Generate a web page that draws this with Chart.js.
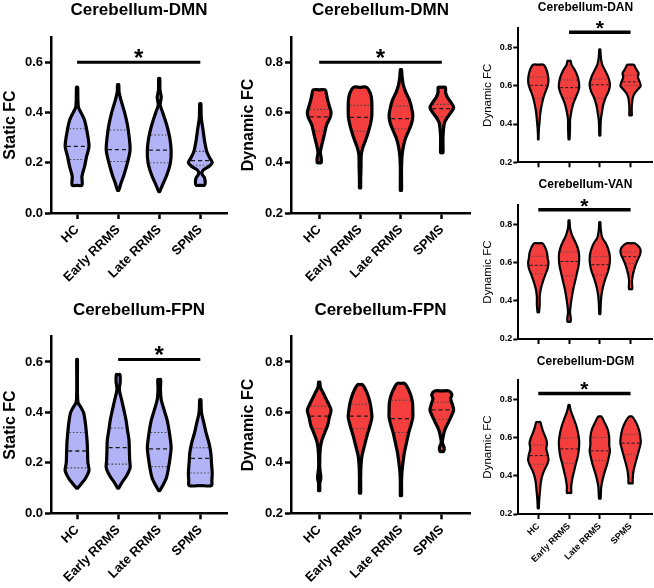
<!DOCTYPE html>
<html><head><meta charset="utf-8">
<script src="https://cdn.jsdelivr.net/npm/chart.js@4"></script>
<style>
html,body{margin:0;padding:0;background:#fff;width:654px;height:588px;overflow:hidden;position:relative}
canvas{position:absolute}
</style></head><body>
<script>
// ---------------- DATA ----------------
const groups = ['HC', 'Early RRMS', 'Late RRMS', 'SPMS'];
const staticTicks = [0.0, 0.2, 0.4, 0.6];
const dynamicTicks = [0.2, 0.4, 0.6, 0.8];

// violin profiles: [value, relative half-width]
const dmnStaticViolins = [
  [[0.11,0.41],[0.146,0.41],[0.185,0.63],[0.225,0.80],[0.265,1.0],[0.32,0.85],[0.37,0.62],[0.40,0.32],[0.42,0.12],[0.45,0.07],[0.50,0.05]],
  [[0.09,0.05],[0.12,0.25],[0.15,0.48],[0.20,0.78],[0.25,1.0],[0.30,0.93],[0.35,0.78],[0.40,0.54],[0.45,0.23],[0.48,0.08],[0.51,0.05]],
  [[0.085,0.04],[0.11,0.26],[0.15,0.63],[0.20,0.94],[0.25,1.0],[0.30,0.88],[0.35,0.63],[0.40,0.29],[0.43,0.08],[0.46,0.17],[0.49,0.06],[0.535,0.05]],
  [[0.11,0.35],[0.12,0.41],[0.14,0.35],[0.155,0.14],[0.17,0.23],[0.185,0.72],[0.20,1.0],[0.22,0.78],[0.245,0.54],[0.28,0.38],[0.33,0.23],[0.38,0.08],[0.435,0.05]]
];
const dmnStaticMedian = [0.265, 0.252, 0.25, 0.208];
const dmnStaticQ1 = [0.213, 0.205, 0.2, 0.19];
const dmnStaticQ3 = [0.335, 0.33, 0.31, 0.245];
const dmnStaticSig = [0, 3, 0.6];

const dmnDynViolins = [
  [[0.40,0.17],[0.42,0.17],[0.44,0.1],[0.46,0.17],[0.49,0.32],[0.52,0.47],[0.55,0.62],[0.58,0.92],[0.60,1.0],[0.63,0.83],[0.65,0.71],[0.67,0.62],[0.69,0.5]],
  [[0.30,0.05],[0.33,0.05],[0.38,0.08],[0.43,0.1],[0.46,0.23],[0.49,0.47],[0.52,0.68],[0.55,0.86],[0.58,0.98],[0.62,1.0],[0.65,0.98],[0.677,0.86],[0.70,0.55]],
  [[0.29,0.05],[0.33,0.05],[0.38,0.05],[0.43,0.1],[0.47,0.23],[0.50,0.41],[0.53,0.68],[0.56,0.92],[0.59,1.0],[0.62,0.89],[0.65,0.71],[0.68,0.41],[0.71,0.2],[0.74,0.1],[0.77,0.05]],
  [[0.44,0.1],[0.47,0.1],[0.50,0.1],[0.53,0.14],[0.56,0.23],[0.58,0.47],[0.60,0.77],[0.62,1.0],[0.64,0.77],[0.66,0.47],[0.68,0.32],[0.70,0.3]]
];
const dmnDynMedian = [0.582, 0.58, 0.575, 0.615];
const dmnDynQ1 = [0.525, 0.525, 0.535, 0.582];
const dmnDynQ3 = [0.612, 0.628, 0.625, 0.632];
const dmnDynSig = [0, 3, 0.8];

const danViolins = [
  [[0.32,0.03],[0.34,0.03],[0.38,0.07],[0.42,0.14],[0.46,0.21],[0.50,0.34],[0.54,0.52],[0.57,0.72],[0.60,0.93],[0.63,1.0],[0.66,0.93],[0.69,0.76],[0.71,0.52]],
  [[0.32,0.05],[0.34,0.07],[0.38,0.1],[0.42,0.1],[0.46,0.21],[0.50,0.38],[0.53,0.59],[0.56,0.83],[0.59,1.0],[0.62,0.97],[0.65,0.83],[0.68,0.59],[0.71,0.24],[0.73,0.15]],
  [[0.34,0.05],[0.38,0.07],[0.42,0.1],[0.46,0.21],[0.50,0.34],[0.54,0.59],[0.57,0.86],[0.60,1.0],[0.62,0.97],[0.65,0.79],[0.68,0.52],[0.71,0.24],[0.75,0.1],[0.79,0.05]],
  [[0.445,0.12],[0.46,0.12],[0.49,0.12],[0.52,0.17],[0.54,0.24],[0.56,0.4],[0.58,0.7],[0.60,1.0],[0.625,0.86],[0.645,0.72],[0.665,0.79],[0.69,0.52],[0.71,0.31]]
];
const danMedian = [0.602, 0.59, 0.605, 0.62];
const danQ1 = [0.535, 0.535, 0.535, 0.6];
const danQ3 = [0.645, 0.63, 0.635, 0.655];
const danSig = [1, 3, 0.88];

const vanViolins = [
  [[0.34,0.07],[0.38,0.14],[0.42,0.14],[0.46,0.24],[0.50,0.45],[0.54,0.72],[0.57,0.93],[0.60,1.0],[0.62,0.93],[0.65,0.86],[0.68,0.66],[0.70,0.4]],
  [[0.29,0.15],[0.31,0.17],[0.34,0.1],[0.38,0.17],[0.42,0.28],[0.46,0.41],[0.50,0.59],[0.54,0.76],[0.58,0.93],[0.62,1.0],[0.65,0.97],[0.68,0.83],[0.71,0.59],[0.74,0.31],[0.78,0.1],[0.82,0.05]],
  [[0.33,0.05],[0.35,0.07],[0.39,0.1],[0.43,0.17],[0.47,0.31],[0.51,0.52],[0.55,0.79],[0.58,0.93],[0.61,1.0],[0.64,0.97],[0.67,0.83],[0.70,0.59],[0.73,0.24],[0.77,0.1],[0.81,0.05]],
  [[0.46,0.15],[0.47,0.17],[0.50,0.14],[0.53,0.21],[0.56,0.34],[0.59,0.52],[0.62,0.76],[0.64,0.93],[0.66,1.0],[0.68,0.86],[0.70,0.4]]
];
const vanMedian = [0.585, 0.605, 0.588, 0.63];
const vanQ1 = [0.54, 0.53, 0.535, 0.595];
const vanQ3 = [0.632, 0.655, 0.63, 0.655];
const vanSig = [0, 3, 0.875];

const dgmViolins = [
  [[0.23,0.05],[0.25,0.07],[0.28,0.1],[0.32,0.17],[0.36,0.24],[0.39,0.34],[0.42,0.52],[0.45,0.79],[0.48,1.0],[0.51,0.93],[0.54,0.79],[0.57,0.86],[0.60,0.72],[0.63,0.48],[0.66,0.31],[0.68,0.2]],
  [[0.31,0.21],[0.34,0.21],[0.38,0.31],[0.42,0.48],[0.46,0.66],[0.50,0.86],[0.54,0.97],[0.58,1.0],[0.62,0.9],[0.66,0.72],[0.70,0.45],[0.74,0.17],[0.77,0.05]],
  [[0.28,0.07],[0.30,0.1],[0.34,0.14],[0.38,0.28],[0.42,0.48],[0.46,0.72],[0.50,0.9],[0.53,1.0],[0.56,0.93],[0.60,0.93],[0.64,0.79],[0.68,0.45],[0.71,0.15]],
  [[0.36,0.2],[0.38,0.21],[0.42,0.28],[0.46,0.45],[0.50,0.66],[0.54,0.86],[0.57,1.0],[0.60,0.97],[0.64,0.83],[0.68,0.52],[0.71,0.15]]
];
const dgmMedian = [0.505, 0.54, 0.53, 0.57];
const dgmQ1 = [0.46, 0.465, 0.48, 0.51];
const dgmQ3 = [0.56, 0.597, 0.6, 0.615];
const dgmSig = [0, 3, 0.83];

const fpnStaticViolins = [
  [[0.10,0.05],[0.12,0.41],[0.14,0.72],[0.17,1.0],[0.20,0.91],[0.24,0.88],[0.28,0.85],[0.32,0.78],[0.36,0.69],[0.40,0.54],[0.42,0.32],[0.44,0.08],[0.48,0.03],[0.55,0.03],[0.61,0.03]],
  [[0.10,0.05],[0.12,0.29],[0.15,0.72],[0.18,1.0],[0.21,0.97],[0.25,0.94],[0.29,0.91],[0.33,0.78],[0.37,0.66],[0.41,0.48],[0.45,0.29],[0.49,0.1],[0.52,0.17],[0.55,0.15]],
  [[0.09,0.05],[0.11,0.29],[0.14,0.6],[0.18,0.78],[0.22,0.91],[0.26,1.0],[0.29,0.94],[0.33,0.82],[0.37,0.66],[0.41,0.41],[0.45,0.17],[0.49,0.1],[0.53,0.12]],
  [[0.11,0.94],[0.13,0.97],[0.16,1.0],[0.20,0.94],[0.24,0.88],[0.28,0.72],[0.32,0.48],[0.36,0.29],[0.40,0.1],[0.45,0.05]]
];
const fpnStaticMedian = [0.247, 0.26, 0.255, 0.218];
const fpnStaticQ1 = [0.18, 0.195, 0.185, 0.16];
const fpnStaticQ3 = [0.32, 0.338, 0.32, 0.26];
const fpnStaticSig = [1, 3, 0.61];

const fpnDynViolins = [
  [[0.29,0.05],[0.32,0.05],[0.34,0.14],[0.38,0.05],[0.42,0.05],[0.46,0.1],[0.49,0.23],[0.52,0.47],[0.55,0.72],[0.58,0.85],[0.61,1.0],[0.64,0.72],[0.67,0.41],[0.70,0.1],[0.72,0.05]],
  [[0.28,0.05],[0.34,0.05],[0.39,0.08],[0.43,0.17],[0.47,0.38],[0.51,0.6],[0.55,0.85],[0.58,1.0],[0.60,0.97],[0.63,0.88],[0.66,0.72],[0.69,0.47],[0.71,0.2]],
  [[0.27,0.05],[0.32,0.05],[0.36,0.08],[0.40,0.17],[0.44,0.29],[0.48,0.47],[0.52,0.66],[0.55,0.85],[0.58,1.0],[0.61,1.0],[0.64,0.97],[0.67,0.82],[0.70,0.54],[0.715,0.3]],
  [[0.445,0.15],[0.46,0.2],[0.48,0.05],[0.50,0.1],[0.53,0.25],[0.56,0.55],[0.59,0.85],[0.61,1.0],[0.63,0.9],[0.655,0.75],[0.67,0.85],[0.685,0.6]]
];
const fpnDynMedian = [0.585, 0.585, 0.575, 0.61];
const fpnDynQ1 = [0.535, 0.535, 0.52, 0.573];
const fpnDynQ3 = [0.625, 0.632, 0.648, 0.64];

// ---------------- STYLE ----------------
const FONT = "'Liberation Sans', Arial, Helvetica, sans-serif";
Chart.defaults.font.family = FONT;
Chart.defaults.color = '#000';
const LAV = '#b2b2f7', RED = '#f43e3e';

const BIG = {titleSize:17, yTitleSize:16, yTitleWeight:'bold', tickSize:13, xTickSize:13, axisW:2.5, tickLen:6,
  violinW:3.2, half:0.29, inset:0.04, tension:0.3, sigW:3, starSize:24, starGap:9, yPad:2, xPad:3,
  mW:1.3, mDash:[4,3], mColor:'#1a1a1a', qW:1.1, qDash:[1.5,2], qColor:'#444'};
const SMALL = {titleSize:12, yTitleSize:11.5, yTitleWeight:'normal', tickSize:9, xTickSize:9, axisW:2, tickLen:5,
  violinW:2.2, half:0.33, inset:0.04, tension:0.3, sigW:3.5, starSize:21, starGap:7, yPad:1, xPad:2,
  mW:1, mDash:[3,2], mColor:'#1a1a1a', qW:0.9, qDash:[1.2,1.8], qColor:'#444'};

function widthAt(profile, v) {
  if (v <= profile[0][0]) return profile[0][1];
  for (let i = 0; i < profile.length - 1; i++) {
    const [v0, w0] = profile[i], [v1, w1] = profile[i + 1];
    if (v >= v0 && v <= v1) return w0 + (w1 - w0) * (v - v0) / (v1 - v0);
  }
  return profile[profile.length - 1][1];
}
function violinPoints(profile, c, half) {
  const right = profile.map(([v, w]) => ({x: c + w * half, y: v}));
  const left = profile.slice().reverse().map(([v, w]) => ({x: c - w * half, y: v}));
  const bottom = {x: c, y: profile[0][0]};
  const top = {x: c, y: profile[profile.length - 1][0]};
  return [bottom, ...right, top, ...left, bottom];
}

const starPlugin = {
  id: 'sigStar',
  afterDatasetsDraw(chart, args, opts) {
    if (!opts || !opts.sig) return;
    const [a, b, v] = opts.sig;
    const ctx = chart.ctx;
    const x = chart.scales.x.getPixelForValue((a + b) / 2);
    const y = chart.scales.y.getPixelForValue(v);
    ctx.save();
    ctx.font = `bold ${opts.size}px ${FONT}`;
    ctx.fillStyle = '#000'; ctx.textAlign = 'center'; ctx.textBaseline = 'alphabetic';
    const m = ctx.measureText('*');
    const cy = y - opts.gap;
    ctx.fillText('*', x, cy + (m.actualBoundingBoxAscent - m.actualBoundingBoxDescent) / 2);
    ctx.restore();
  }
};

function makeChart(p) {
  const S = p.style;
  const [cl, ct, cw, ch] = p.box;
  const [al, at, ar, ab] = p.area;
  const cv = document.createElement('canvas');
  cv.width = cw; cv.height = ch;
  cv.style.left = cl + 'px'; cv.style.top = ct + 'px';
  document.body.appendChild(cv);

  const datasets = [];
  if (p.sig) {
    datasets.push({data: [{x: p.sig[0], y: p.sig[2]}, {x: p.sig[1], y: p.sig[2]}],
      borderColor: '#000', borderWidth: S.sigW, pointRadius: 0, fill: false, order: 0, borderCapStyle: 'butt'});
  }
  p.violins.forEach((prof, i) => {
    [[p.q1, S.qDash, S.qW, S.qColor], [p.q3, S.qDash, S.qW, S.qColor], [p.med, S.mDash, S.mW, S.mColor]].forEach(([arr, dash, w, col]) => {
      const hw = widthAt(prof, arr[i]) * S.half - S.inset;
      datasets.push({data: [{x: i - hw, y: arr[i]}, {x: i + hw, y: arr[i]}], borderColor: col, borderWidth: w,
        borderDash: dash, pointRadius: 0, fill: false, order: 1});
    });
    datasets.push({data: violinPoints(prof, i, S.half), borderColor: '#000', backgroundColor: p.fill,
      borderWidth: S.violinW, fill: 'shape', tension: S.tension, pointRadius: 0,
      borderJoinStyle: 'round', borderCapStyle: 'round', order: 2});
  });

  const lh = S.titleSize * 1.2;
  const tTop = Math.max(0, p.titleY - ct - lh / 2);
  const tBot = at - ct - tTop - lh;
  const gridOpts = {display: true, drawOnChartArea: false, drawTicks: true, tickLength: S.tickLen,
    tickWidth: S.axisW, tickColor: '#000', color: '#000'};
  const borderOpts = {display: true, color: '#000', width: S.axisW};

  new Chart(cv, {
    type: 'line',
    data: {datasets},
    plugins: [starPlugin],
    options: {
      responsive: false, animation: false, devicePixelRatio: 1,
      layout: {padding: {left: 0, top: 0, right: cl + cw - ar, bottom: 0}},
      plugins: {
        legend: {display: false}, tooltip: {enabled: false},
        title: {display: true, text: p.title, fullSize: false, color: '#000',
          font: {size: S.titleSize, weight: 'bold'}, padding: {top: tTop, bottom: tBot}},
        sigStar: {sig: p.sig, size: S.starSize, gap: S.starGap}
      },
      scales: {
        x: {type: 'linear', min: p.xRange[0], max: p.xRange[1],
          afterBuildTicks: s => { s.ticks = groups.map((g, i) => ({value: i})); },
          afterFit: s => { s.height = ct + ch - ab; },
          ticks: {autoSkip: false, minRotation: p.showX ? 45 : 0, maxRotation: p.showX ? 45 : 0,
            padding: S.xPad, font: {size: S.xTickSize, weight: 'bold'}, color: '#000',
            callback: v => p.showX ? groups[Math.round(v)] : ''},
          grid: gridOpts, border: borderOpts},
        y: {type: 'linear', min: p.yRange[0], max: p.yRange[1],
          afterBuildTicks: s => { s.ticks = p.yTicks.map(v => ({value: v})); },
          afterFit: s => { s.width = al - cl; },
          ticks: {padding: S.yPad, font: {size: S.tickSize, weight: 'bold'}, color: '#000',
            callback: v => Number(v).toFixed(1)},
          grid: gridOpts, border: borderOpts,
          title: {display: true, text: p.yTitle, color: '#000',
            font: {size: S.yTitleSize, weight: S.yTitleWeight}, padding: {top: p.yTitlePad, bottom: 0}}}
      }
    }
  });
}

// ---------------- PANELS ----------------
makeChart({style: BIG, box: [0, 0, 232, 290], area: [51, 37, 227, 213], titleY: 10.5,
  title: 'Cerebellum-DMN', yTitle: 'Static FC', yTitlePad: 0.5, yRange: [0, 0.7], yTicks: staticTicks,
  xRange: [-0.635, 3.65], showX: true, fill: LAV,
  violins: dmnStaticViolins, med: dmnStaticMedian, q1: dmnStaticQ1, q3: dmnStaticQ3, sig: dmnStaticSig});

makeChart({style: BIG, box: [232, 0, 244, 290], area: [291, 37, 470, 213], titleY: 10.5,
  title: 'Cerebellum-DMN', yTitle: 'Dynamic FC', yTitlePad: 7.4, yRange: [0.2, 0.9], yTicks: dynamicTicks,
  xRange: [-0.69, 3.69], showX: true, fill: RED,
  violins: dmnDynViolins, med: dmnDynMedian, q1: dmnDynQ1, q3: dmnDynQ3, sig: dmnDynSig});

makeChart({style: BIG, box: [0, 290, 232, 298], area: [51, 336.7, 227, 513.3], titleY: 310,
  title: 'Cerebellum-FPN', yTitle: 'Static FC', yTitlePad: 0.5, yRange: [0, 0.7], yTicks: staticTicks,
  xRange: [-0.635, 3.65], showX: true, fill: LAV,
  violins: fpnStaticViolins, med: fpnStaticMedian, q1: fpnStaticQ1, q3: fpnStaticQ3, sig: fpnStaticSig});

makeChart({style: BIG, box: [232, 290, 244, 298], area: [291, 336.7, 470, 513.3], titleY: 310,
  title: 'Cerebellum-FPN', yTitle: 'Dynamic FC', yTitlePad: 7.4, yRange: [0.2, 0.9], yTicks: dynamicTicks,
  xRange: [-0.69, 3.69], showX: true, fill: RED,
  violins: fpnDynViolins, med: fpnDynMedian, q1: fpnDynQ1, q3: fpnDynQ3, sig: null});

makeChart({style: SMALL, box: [462, 0, 192, 172], area: [518.3, 28.3, 652.7, 162.3], titleY: 7.5,
  title: 'Cerebellum-DAN', yTitle: 'Dynamic FC', yTitlePad: 18.6, yRange: [0.2, 0.9], yTicks: dynamicTicks,
  xRange: [-0.65, 3.72], showX: false, fill: RED,
  violins: danViolins, med: danMedian, q1: danQ1, q3: danQ3, sig: danSig});

makeChart({style: SMALL, box: [462, 172, 192, 178], area: [518.3, 205, 652.7, 339], titleY: 185,
  title: 'Cerebellum-VAN', yTitle: 'Dynamic FC', yTitlePad: 18.6, yRange: [0.2, 0.9], yTicks: dynamicTicks,
  xRange: [-0.65, 3.72], showX: false, fill: RED,
  violins: vanViolins, med: vanMedian, q1: vanQ1, q3: vanQ3, sig: vanSig});

makeChart({style: SMALL, box: [462, 350, 192, 238], area: [518.3, 380, 652.7, 514], titleY: 361.7,
  title: 'Cerebellum-DGM', yTitle: 'Dynamic FC', yTitlePad: 18.6, yRange: [0.2, 0.9], yTicks: dynamicTicks,
  xRange: [-0.65, 3.72], showX: true, fill: RED,
  violins: dgmViolins, med: dgmMedian, q1: dgmQ1, q3: dgmQ3, sig: dgmSig});
</script>
</body></html>
